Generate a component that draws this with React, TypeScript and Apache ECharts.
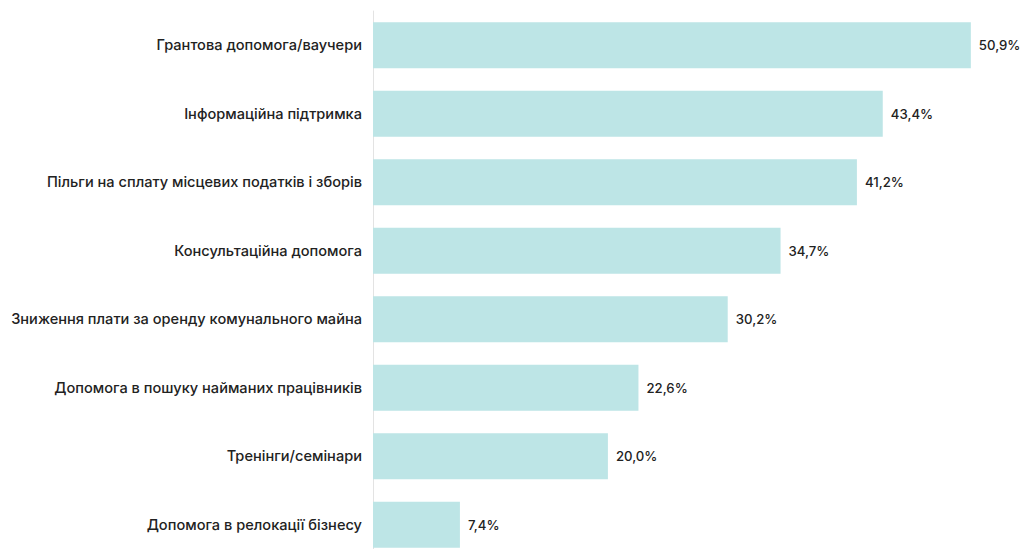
import React, { useEffect, useRef } from "react";
import * as echarts from "echarts";

const categories = [
  "Грантова допомога/ваучери",
  "Інформаційна підтримка",
  "Пільги на сплату місцевих податків і зборів",
  "Консультаційна допомога",
  "Зниження плати за оренду комунального майна",
  "Допомога в пошуку найманих працівників",
  "Тренінги/семінари",
  "Допомога в релокації бізнесу",
];
const values = [50.9, 43.4, 41.2, 34.7, 30.2, 22.6, 20.0, 7.4];

export default function App() {
  const ref = useRef<HTMLDivElement>(null);
  useEffect(() => {
    const chart = echarts.init(ref.current!, null, { renderer: "svg" });
    chart.setOption({
      animation: false,
      grid: {
        left: 373,
        width: 646,
        top: 11,
        height: 548,
        containLabel: false,
        outerBoundsMode: "none",
      },
      xAxis: {
        type: "value",
        min: 0,
        max: 55,
        show: false,
      },
      yAxis: {
        type: "category",
        inverse: true,
        data: categories,
        axisLine: { show: true, lineStyle: { color: "#e3e3e3", width: 1 } },
        axisTick: { show: false },
        axisLabel: {
          margin: 11,
          fontFamily: "Inter",
          fontWeight: 500,
          fontSize: 14.6,
          color: "#222222",
        },
      },
      series: [
        {
          type: "bar",
          data: values,
          barWidth: 46,
          itemStyle: { color: "#bde5e6" },
          label: {
            show: true,
            position: "right",
            distance: 8,
            fontFamily: "Inter",
            fontWeight: 500,
            fontSize: 13.2,
            color: "#222222",
            formatter: (p: any) => p.value.toFixed(1).replace(".", ",") + "%",
          },
        },
      ],
    });
    return () => chart.dispose();
  }, []);
  return (
    <div
      ref={ref}
      style={{ position: "fixed", left: 0, top: 0, width: 1026, height: 549, background: "#fff" }}
    />
  );
}
